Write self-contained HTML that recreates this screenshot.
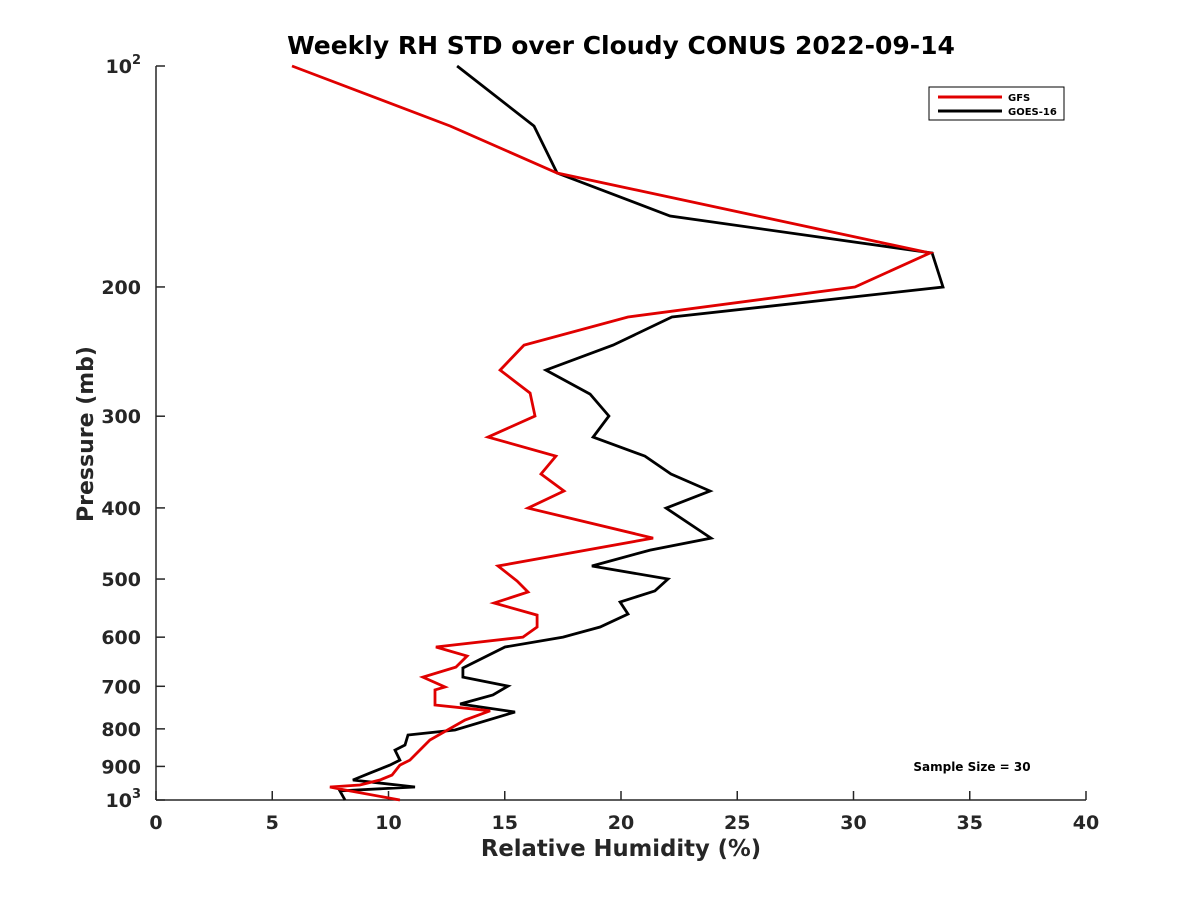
<!DOCTYPE html>
<html><head><meta charset="utf-8"><style>
body{margin:0;background:#fff;}
svg{display:block;font-family:"DejaVu Sans","Liberation Sans",sans-serif;font-weight:bold;}
</style></head><body>
<svg id="chart" width="1200" height="900" viewBox="0 0 1200 900">
<rect width="1200" height="900" fill="#fff"/>
<text x="621" y="54" text-anchor="middle" font-size="25" fill="#000">Weekly RH STD over Cloudy CONUS 2022-09-14</text>
<g id="axes"></g>
<g id="series"></g>
<g>
<rect x="929" y="87" width="135" height="33" fill="#fff" stroke="#000" stroke-width="1"/>
<line x1="938" y1="97" x2="1002" y2="97" stroke="#e00000" stroke-width="3"/>
<text x="1008" y="101" font-size="10">GFS</text>
<line x1="938" y1="111" x2="1002" y2="111" stroke="#000" stroke-width="3"/>
<text x="1008" y="115" font-size="10">GOES-16</text>
</g>
<text x="972" y="771" text-anchor="middle" font-size="12">Sample Size = 30</text>
<text x="621" y="856" text-anchor="middle" font-size="22.7" fill="#262626">Relative Humidity (%)</text>
<text transform="translate(93,434) rotate(-90)" text-anchor="middle" font-size="22" fill="#262626">Pressure (mb)</text>
</svg>
<script>
const xTicks=[0,5,10,15,20,25,30,35,40];
const yTicks=[100,200,300,400,500,600,700,800,900,1000];
const yTickLabels=["10²","200","300","400","500","600","700","800","900","10³"];
const gfsRH=[5.85,12.65,17.25,33.29,30.06,20.30,15.83,14.80,16.09,16.30,14.28,17.20,16.56,17.55,16.00,21.38,14.71,15.53,16.00,14.54,16.39,16.39,15.78,12.04,13.38,12.90,11.48,12.43,12.00,12.00,14.37,13.29,11.78,10.92,10.49,10.15,9.63,8.77,7.48,8.13,10.49];
const gfsP=[100,120.7,139.9,179.8,200,219.8,240,259.6,279,299.8,320.3,340,359.6,379.3,400.2,439.8,480,503,520.7,539,559.8,581.2,599.8,618.8,636.6,659,680,701.5,708,742.3,756,778,828.5,882.4,896.4,925,939.3,954.1,960,969,1000];
const goesRH=[12.95,16.26,17.25,22.11,33.38,33.85,22.19,19.66,16.77,18.67,19.48,18.80,21.03,22.15,23.83,21.94,23.87,21.25,18.75,22.02,21.46,19.96,20.30,19.10,17.51,15.01,13.20,13.20,15.14,14.49,13.08,15.44,12.86,10.84,10.71,10.28,10.49,10.06,9.20,8.47,11.14,7.91,8.13];
const goesP=[100,120.7,139.9,160.1,179.8,200,219.8,240,259.6,279.9,299.8,320.3,340,359.6,379.3,400.2,439.8,456.6,480,500,519,537.3,557.9,581.2,599.8,618.8,661,680,699.5,719.3,739.9,758.7,802.8,815.5,841.6,855,882.4,896.4,919,939.3,960,972,1000];

const L=156,R=1086,T=66,B=800;
const xs=v=>L+(v-0)/40*(R-L);
const ys=p=>T+(Math.log10(p)-2)*(B-T);
const NS="http://www.w3.org/2000/svg";
function mk(tag,attrs,parent){const e=document.createElementNS(NS,tag);for(const k in attrs)e.setAttribute(k,attrs[k]);parent.appendChild(e);return e;}
const ax=document.getElementById('axes');
const xl=mk('line',{x1:L,y1:B,x2:R,y2:B,stroke:'#262626','stroke-width':1.5},ax);


const yl=mk('line',{x1:L,y1:T,x2:L,y2:B,stroke:'#262626','stroke-width':1.5},ax);


xTicks.forEach(v=>{
  const x=xs(v);
  const t=mk('line',{x1:x,y1:B,x2:x,y2:B-9,stroke:'#262626','stroke-width':1.5},ax);
  
  
  const tx=mk('text',{x:x,y:B+29,'text-anchor':'middle','font-size':19,fill:'#262626'},ax);
  tx.textContent=v;
  
  
});
yTicks.forEach((p,i)=>{
  const y=ys(p);
  const t=mk('line',{x1:L,y1:y,x2:L+9,y2:y,stroke:'#262626','stroke-width':1.5},ax);
  
  
  const tx=mk('text',{x:L-15,y:y+7,'text-anchor':'end','font-size':19,fill:'#262626'},ax);
  const lab=yTickLabels[i];
  if(lab.startsWith('10')&&lab.length===3){
    tx.textContent='10';
    const s=mk('tspan',{dy:-9,'font-size':13},tx);s.textContent=lab==='10²'?'2':'3';
  } else tx.textContent=lab;
  
  
});
const sg=document.getElementById('series');
function line(xv,pv,color,name){
  const pts=xv.map((v,i)=>xs(v).toFixed(1)+','+ys(pv[i]).toFixed(1)).join(' ');
  const pl=mk('polyline',{points:pts,fill:'none',stroke:color,'stroke-width':2.8,'stroke-linejoin':'miter'},sg);
  
  
}
line(goesRH,goesP,'#000','goes16-line');
line(gfsRH,gfsP,'#e00000','gfs-line');
</script>
</body></html>
